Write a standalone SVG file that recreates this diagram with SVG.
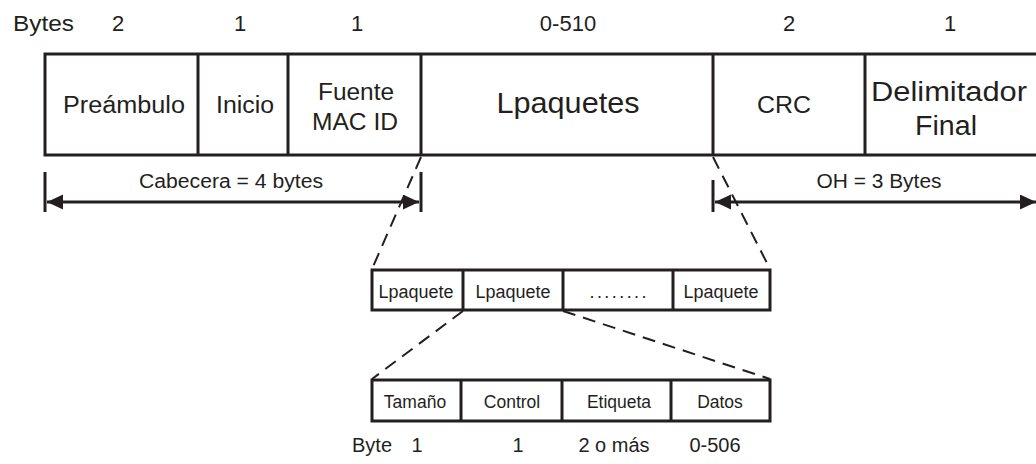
<svg xmlns="http://www.w3.org/2000/svg" width="1036" height="464" viewBox="0 0 1036 464">
  <style>
    text { font-family: "Liberation Sans", Arial, sans-serif; fill: #231f20; }
    .lbl { font-size: 22px; }
    .mid { text-anchor: middle; }
    .cell { font-size: 23px; }
    .big { font-size: 30px; }
    .dim { font-size: 20px; }
    .small { font-size: 18px; }
    .field { font-size: 17.5px; }
    .frame { fill: none; stroke: #231f20; stroke-width: 3; }
    .dash { fill: none; stroke: #231f20; stroke-width: 2; stroke-dasharray: 13 8; }
    .dimline { fill: none; stroke: #231f20; stroke-width: 3; }
  </style>
  <defs>
    <marker id="arrow" markerUnits="userSpaceOnUse" markerWidth="17" markerHeight="16" refX="16" refY="7.5" orient="auto-start-reverse">
      <path d="M0,0 L16,7.5 L0,15 z" fill="#231f20"/>
    </marker>
  </defs>

  <rect width="1036" height="464" fill="#ffffff"/>

  <!-- byte counts above the frame -->
  <g id="byte-counts">
    <text class="lbl" x="13" y="31" textLength="61" lengthAdjust="spacingAndGlyphs">Bytes</text>
    <text class="lbl mid" x="118" y="31">2</text>
    <text class="lbl mid" x="240" y="31">1</text>
    <text class="lbl mid" x="357" y="31">1</text>
    <text class="lbl mid" x="568" y="31">0-510</text>
    <text class="lbl mid" x="789" y="31">2</text>
    <text class="lbl mid" x="950" y="31">1</text>
  </g>

  <!-- frame fields -->
  <g id="preambulo">
    <path class="frame" d="M45,54 H198 M45,155 H198 M45,52.5 V156.5"/>
    <text class="cell mid" x="124" y="113" textLength="122" lengthAdjust="spacingAndGlyphs">Preámbulo</text>
  </g>
  <g id="inicio">
    <path class="frame" d="M198,54 H288 M198,155 H288 M198,54 V155"/>
    <text class="cell mid" x="245" y="113" textLength="58" lengthAdjust="spacingAndGlyphs">Inicio</text>
  </g>
  <g id="fuente-mac-id">
    <path class="frame" d="M288,54 H421 M288,155 H421 M288,54 V155"/>
    <text class="cell mid" x="356" y="100" textLength="76" lengthAdjust="spacingAndGlyphs">Fuente</text>
    <text class="cell mid" x="355" y="130" textLength="86" lengthAdjust="spacingAndGlyphs">MAC ID</text>
  </g>
  <g id="lpaquetes">
    <path class="frame" d="M421,54 H713 M421,155 H713 M421,54 V155"/>
    <text class="big mid" x="568" y="113" textLength="143" lengthAdjust="spacingAndGlyphs">Lpaquetes</text>
  </g>
  <g id="crc">
    <path class="frame" d="M713,54 H865 M713,155 H865 M713,54 V155"/>
    <text class="cell mid" x="784" y="113" textLength="54" lengthAdjust="spacingAndGlyphs">CRC</text>
  </g>
  <g id="delimitador-final">
    <path class="frame" d="M865,54 H1036 M865,155 H1036 M865,54 V155"/>
    <text class="mid" style="font-size:27px" x="949" y="101" textLength="156" lengthAdjust="spacingAndGlyphs">Delimitador</text>
    <text class="mid" style="font-size:27px" x="946" y="135" textLength="62" lengthAdjust="spacingAndGlyphs">Final</text>
  </g>

  <!-- packet list row -->
  <g id="lpaquete-1">
    <path class="frame" d="M372,270 H463 M372,310 H463 M372,268.5 V311.5"/>
    <text class="small mid" x="416" y="298" textLength="75" lengthAdjust="spacingAndGlyphs">Lpaquete</text>
  </g>
  <g id="lpaquete-2">
    <path class="frame" d="M463,270 H563 M463,310 H563 M463,270 V310"/>
    <text class="small mid" x="513" y="298" textLength="75" lengthAdjust="spacingAndGlyphs">Lpaquete</text>
  </g>
  <g id="lpaquete-more">
    <path class="frame" d="M563,270 H673 M563,310 H673 M563,270 V310"/>
    <text class="small mid" x="618" y="298" textLength="57" lengthAdjust="spacing">........</text>
  </g>
  <g id="lpaquete-n">
    <path class="frame" d="M673,270 H770 M673,310 H770 M673,270 V310 M770,268.5 V311.5"/>
    <text class="small mid" x="721" y="298" textLength="75" lengthAdjust="spacingAndGlyphs">Lpaquete</text>
  </g>

  <!-- single packet fields -->
  <g id="tamano">
    <path class="frame" d="M372,380 H461 M372,421 H461 M372,378.5 V422.5"/>
    <text class="field mid" x="415" y="408">Tamaño</text>
  </g>
  <g id="control">
    <path class="frame" d="M461,380 H562 M461,421 H562 M461,380 V421"/>
    <text class="field mid" x="512" y="408">Control</text>
  </g>
  <g id="etiqueta">
    <path class="frame" d="M562,380 H671 M562,421 H671 M562,380 V421"/>
    <text class="field mid" x="619" y="408">Etiqueta</text>
  </g>
  <g id="datos">
    <path class="frame" d="M671,380 H770 M671,421 H770 M671,380 V421 M770,378.5 V422.5"/>
    <text class="field mid" x="720" y="408">Datos</text>
  </g>

  <!-- field sizes under the packet -->
  <g id="packet-byte-counts">
    <text class="dim" x="352" y="452">Byte</text>
    <text class="dim mid" x="417" y="452">1</text>
    <text class="dim mid" x="518" y="452">1</text>
    <text class="dim mid" x="614" y="452">2 o más</text>
    <text class="dim mid" x="715" y="452">0-506</text>
  </g>

  <!-- dimension arrows and expansion lines -->
  <g id="connectors">
    <path class="dimline" d="M45,172 V212 M421,172 V212"/>
    <line class="dimline" x1="47" y1="202" x2="419" y2="202" marker-start="url(#arrow)" marker-end="url(#arrow)"/>
    <text class="dim mid" x="231" y="188" textLength="184" lengthAdjust="spacingAndGlyphs">Cabecera = 4 bytes</text>

    <path class="dimline" d="M713,180 V212"/>
    <line class="dimline" x1="715" y1="202" x2="1036" y2="202" marker-start="url(#arrow)" marker-end="url(#arrow)"/>
    <text class="dim mid" x="879" y="188" textLength="125" lengthAdjust="spacingAndGlyphs">OH = 3 Bytes</text>

    <line class="dash" x1="421" y1="157" x2="372" y2="269"/>
    <line class="dash" x1="713" y1="157" x2="770" y2="269"/>
    <line class="dash" x1="463" y1="311" x2="372" y2="379"/>
    <line class="dash" x1="563" y1="311" x2="770" y2="379"/>
  </g>
</svg>
